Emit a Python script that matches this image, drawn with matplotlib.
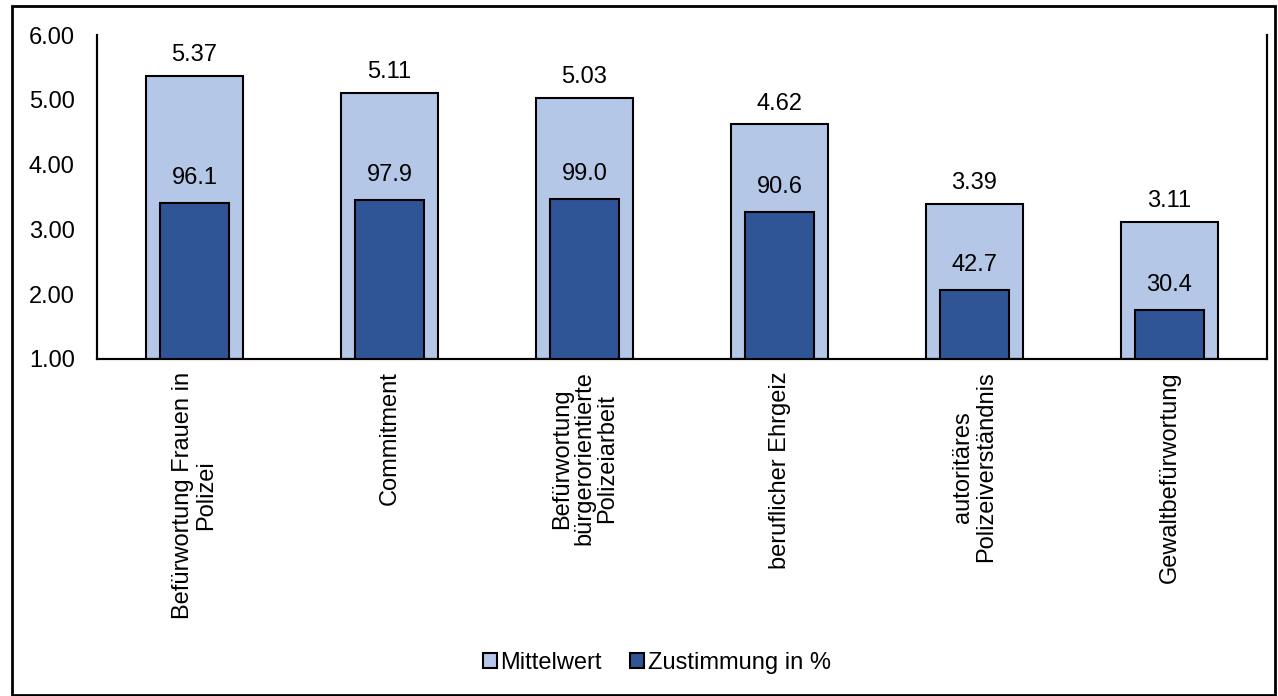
import matplotlib.pyplot as plt
import numpy as np
from matplotlib.patches import Rectangle, Patch

plt.rcParams['font.family'] = ['Liberation Sans', 'DejaVu Sans']

# Skalen: Mittelwert (1-6) und Zustimmung in %
categories = ["Befürwortung Frauen in\nPolizei", "Commitment",
              "Befürwortung\nbürgerorientierte\nPolizeiarbeit", "beruflicher Ehrgeiz",
              "autoritäres\nPolizeiverständnis", "Gewaltbefürwortung"]
mittelwert = [5.37, 5.11, 5.03, 4.62, 3.39, 3.11]
zustimmung = [96.1, 97.9, 99.0, 90.6, 42.7, 30.4]

light = '#B4C7E7'
dark = '#2F5597'
fs = 17

fig = plt.figure(figsize=(12.78, 6.96), dpi=100)
ax = fig.add_axes([0.0759, 0.4842, 0.9155, 0.4655])
ax2 = ax.twinx()

x = np.arange(len(categories))
ax.bar(x, np.array(mittelwert) - 1, bottom=1, width=0.5, color=light,
       edgecolor='black', linewidth=1.5, zorder=2)
ax2.bar(x, zustimmung, width=0.355, color=dark, edgecolor='black',
        linewidth=1.5, zorder=3)

for xi, v in zip(x, mittelwert):
    ax.annotate(f"{v:.2f}", (xi, v), xytext=(0, 15), textcoords='offset points',
                ha='center', va='center', fontsize=fs)
for xi, v in zip(x, zustimmung):
    ax2.annotate(f"{v:.1f}", (xi, v), xytext=(0, 18), textcoords='offset points',
                 ha='center', va='center', fontsize=fs)

ax.set_xlim(-0.5, len(categories) - 0.5)
ax.set_ylim(1, 6)
ax2.set_ylim(0, 200)
ax.set_yticks([1, 2, 3, 4, 5, 6])
ax.set_yticklabels([f"{t:.2f}" for t in range(1, 7)])
ax.tick_params(axis='y', length=0, pad=16, labelsize=fs)
ax.tick_params(axis='x', length=0, pad=9)
ax2.set_yticks([])
ax.set_xticks(x)
ax.set_xticklabels(categories, rotation=90, fontsize=fs, ha='center', va='top',
                   multialignment='center', linespacing=1.05)

for a in (ax, ax2):
    a.spines['top'].set_visible(False)
    for s in ('left', 'bottom', 'right'):
        a.spines[s].set_linewidth(1.5)
ax.set_zorder(ax2.get_zorder() - 1)
ax2.patch.set_visible(False)

handles = [Patch(facecolor=light, edgecolor='black', linewidth=1.5, label='Mittelwert'),
           Patch(facecolor=dark, edgecolor='black', linewidth=1.5, label='Zustimmung in %')]
fig.legend(handles=handles, loc='center', bbox_to_anchor=(0.514, 0.047), ncol=2,
           frameon=False, fontsize=fs, handlelength=0.6, handleheight=0.6,
           handletextpad=0.15, columnspacing=1.2)

# Rahmen um die gesamte Grafik
fig.patches.append(Rectangle((0.0094, 0.002), 0.988, 0.99, transform=fig.transFigure,
                             fill=False, edgecolor='black', linewidth=2))

fig.savefig('out.png', dpi=100)
